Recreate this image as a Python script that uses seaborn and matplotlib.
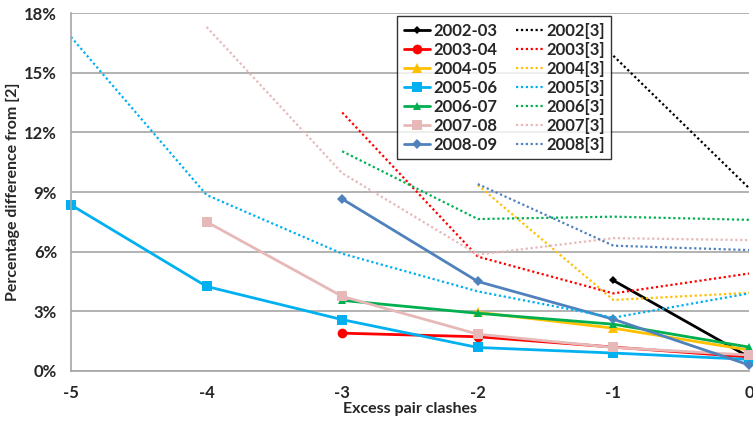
import matplotlib
matplotlib.use("Agg")
import matplotlib.pyplot as plt
import seaborn as sns
import pandas as pd
from matplotlib.ticker import FuncFormatter

sns.set_style("white")
plt.rcParams['font.family'] = ['Lato', 'DejaVu Sans']
plt.rcParams['font.weight'] = 'bold'
plt.rcParams['axes.unicode_minus'] = False

# excess pair clashes
clashes = [-5, -4, -3, -2, -1, 0]

# solid series (this work), values in %
years = ["2002-03", "2003-04", "2004-05", "2005-06", "2006-07", "2007-08", "2008-09"]
s2002 = [None, None, None, None, 4.55, 0.7]
s2003 = [None, None, 1.9, 1.72, 1.2, 0.7]
s2004 = [None, None, None, 2.95, 2.15, 1.05]
s2005 = [8.35, 4.25, 2.58, 1.18, 0.9, 0.58]
s2006 = [None, None, 3.55, 2.9, 2.35, 1.2]
s2007 = [None, 7.5, 3.75, 1.85, 1.18, 0.8]
s2008 = [None, None, 8.65, 4.5, 2.6, 0.3]

# dotted series (reference [3])
refs = ["2002[3]", "2003[3]", "2004[3]", "2005[3]", "2006[3]", "2007[3]", "2008[3]"]
r2002 = [None, None, None, None, 15.85, 9.2]
r2003 = [None, None, 13.0, 5.75, 3.9, 4.9]
r2004 = [None, None, None, 9.35, 3.57, 3.93]
r2005 = [16.8, 8.85, 5.9, 4.0, 2.68, 3.9]
r2006 = [None, None, 11.05, 7.64, 7.76, 7.6]
r2007 = [None, 17.3, 9.95, 5.85, 6.68, 6.58]
r2008 = [None, None, None, 9.4, 6.3, 6.08]

colors = ["#000000", "#FF0000", "#FFC000", "#00B0F0", "#00B050", "#E6B9B8", "#4F81BD"]
markers = ["D", "o", "^", "s", "^", "s", "D"]
msizes = [4, 7, 7, 7, 6, 7, 5]

solid = [s2002, s2003, s2004, s2005, s2006, s2007, s2008]
dotted = [r2002, r2003, r2004, r2005, r2006, r2007, r2008]

fig = plt.figure(figsize=(7.53, 4.22), dpi=100)
ax = fig.add_axes([71 / 753, 0.121, (749 - 71) / 753, 0.848])

for name, vals, c, m, ms in zip(years, solid, colors, markers, msizes):
    df = pd.DataFrame({"x": clashes, "y": vals}).dropna()
    sns.lineplot(data=df, x="x", y="y", ax=ax, color=c, marker=m, markersize=ms,
                 markeredgewidth=0, linewidth=2, label=name, clip_on=False)

for name, vals, c in zip(refs, dotted, colors):
    df = pd.DataFrame({"x": clashes, "y": vals}).dropna()
    sns.lineplot(data=df, x="x", y="y", ax=ax, color=c, linewidth=1.6,
                 linestyle=(0, (1, 1.2)), label=name)

ax.set_xlim(-5, 0)
ax.set_ylim(0, 18)
ax.set_xticks(clashes)
ax.set_yticks([0, 3, 6, 9, 12, 15, 18])
ax.yaxis.set_major_formatter(FuncFormatter(lambda v, p: f"{v:.0f}%"))
ax.grid(axis="y", color="#A6A6A6", linewidth=1.2)
ax.set_axisbelow(True)
for sp in ["top", "right"]:
    ax.spines[sp].set_visible(False)
for sp in ["left", "bottom"]:
    ax.spines[sp].set_color("#A6A6A6")
    ax.spines[sp].set_linewidth(1.2)
ax.tick_params(axis="both", length=4, color="#A6A6A6", labelsize=12, pad=6)
for lbl in ax.get_xticklabels() + ax.get_yticklabels():
    lbl.set_fontweight("bold")
ax.set_xlabel("Excess pair clashes", fontsize=11.5, fontweight="bold", labelpad=1)
ax.set_ylabel("Percentage difference from [2]", fontsize=11.5, fontweight="bold", labelpad=3)

leg = ax.legend(ncol=2, loc="upper left", bbox_to_anchor=(397 / 753, 1 - 16 / 422),
                bbox_transform=fig.transFigure, borderaxespad=0, fontsize=12,
                frameon=True, fancybox=False, edgecolor="black", handlelength=1.6,
                columnspacing=1.1, labelspacing=0.18, borderpad=0.4, handletextpad=0.2)
leg.get_frame().set_linewidth(1.0)
for t in leg.get_texts():
    t.set_fontweight("bold")

fig.savefig("out.png", dpi=100)
